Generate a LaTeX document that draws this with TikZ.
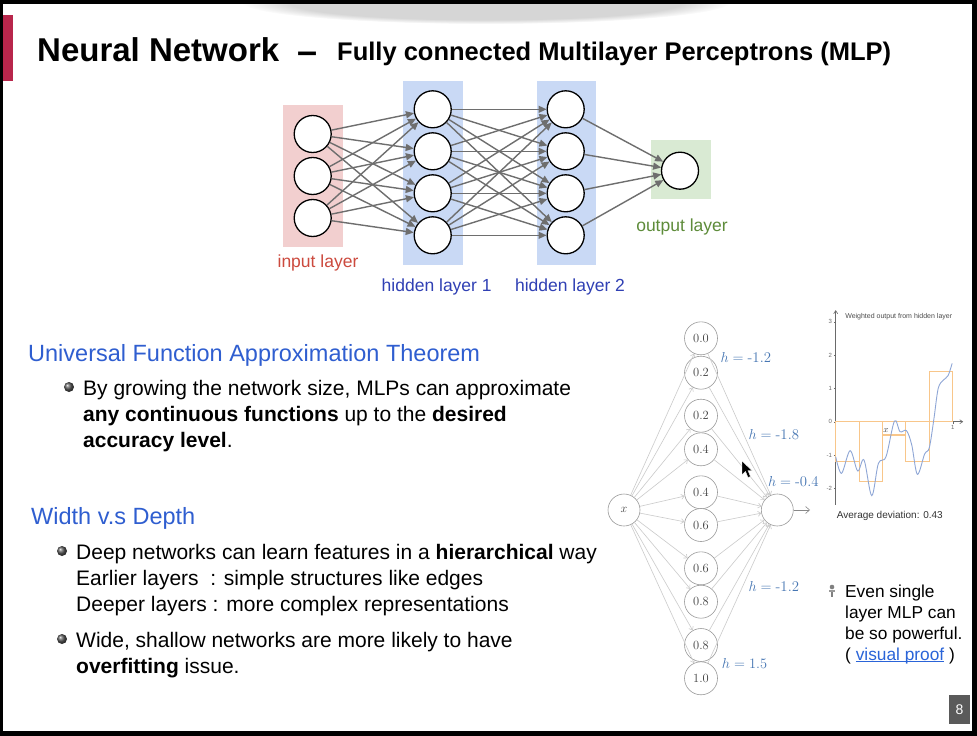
\documentclass[tikz,border=0pt]{standalone}
\usepackage{fontspec}
\newfontfamily\arial{Liberation Sans}
\usetikzlibrary{arrows.meta,fadings}

\definecolor{slidered}{HTML}{B8264B}
\definecolor{pinkbox}{HTML}{F2CFCF}
\definecolor{bluebox}{HTML}{C9D9F5}
\definecolor{greenbox}{HTML}{D9EAD3}
\definecolor{inred}{HTML}{CC4A3E}
\definecolor{hidblue}{HTML}{3040B4}
\definecolor{outgreen}{HTML}{5E8C3A}
\definecolor{headblue}{HTML}{2F5ED0}
\definecolor{hblue}{HTML}{4676B3}
\definecolor{linkblue}{HTML}{2A64D8}
\definecolor{edgegray}{HTML}{6E6E6E}
\definecolor{lightedge}{HTML}{CBCBCB}
\definecolor{nodegray}{HTML}{9A9A9A}
\definecolor{numgray}{HTML}{404040}
\definecolor{orangebar}{HTML}{F8C68A}
\definecolor{curveblue}{HTML}{8EA6D6}
\definecolor{axisgray}{HTML}{6A6A6A}
\definecolor{pagegray}{HTML}{5A5A5A}

% link text with a rule just under the baseline
\newcommand\linkline[1]{\setbox0\hbox{#1}\rlap{\rule[-1.8pt]{\wd0}{0.9pt}}\box0}

\begin{document}
\begin{tikzpicture}[x=1pt,y=-1pt,
  txt/.style={anchor=base west,inner sep=0,font=\arial\fontsize{21}{25}\selectfont},
  head/.style={anchor=base west,inner sep=0,text=headblue,font=\arial\fontsize{23.5}{28}\selectfont},
  dot/.style={circle,minimum size=10,inner sep=0,ball color=black!65},
  bignode/.style={circle,draw=black,line width=1.3,fill=white,minimum size=37,inner sep=0},
  bigedge/.style={draw=edgegray,line width=1.4,-{Triangle[length=8,width=7]}},
  laylabel/.style={inner sep=0,font=\arial\fontsize{17.5}{20}\selectfont},
  smallnode/.style={circle,draw=nodegray,line width=0.6,fill=white,minimum size=33,inner sep=0,
    text=numgray,font=\fontsize{12.5}{14}\selectfont},
  thinedge/.style={draw=lightedge,line width=0.6,-{Straight Barb[length=3,width=5]}},
  hlabel/.style={inner sep=0,text=hblue,font=\fontsize{14.8}{17}\selectfont},
  axis/.style={draw=axisgray,line width=0.6},
  ticklabel/.style={inner sep=0,text=axisgray,font=\arial\fontsize{6}{7}\selectfont},
  bar/.style={draw=orangebar,line width=1.1},
  side/.style={anchor=base west,inner sep=0,font=\arial\fontsize{17.3}{21}\selectfont}]

\useasboundingbox (0,0) rectangle (977,736);

% frame and slide
\fill[black] (0,0) rectangle (977,736);
\fill[white] (3,4) rectangle (972,731);
\fill[black,opacity=0.16,path fading=circle with fuzzy edge 20 percent]
  (486,2) ellipse [x radius=245,y radius=22];
\fill[black] (0,0) rectangle (977,4);
\fill[slidered] (3,15) rectangle (13,81);

% title
\node[anchor=base west,inner sep=0,font=\arial\bfseries\fontsize{33}{40}\selectfont] (title) at (37,61) {Neural Network};
\node[anchor=base,inner sep=0,font=\arial\bfseries\fontsize{36}{40}\selectfont] (dash) at (308,63) {–};
\node[anchor=base west,inner sep=0,font=\arial\bfseries\fontsize{25.5}{30}\selectfont] (subtitle) at (337,60)
  {Fully connected Multilayer Perceptrons (MLP)};

% layered network
\fill[pinkbox] (283.3,105) rectangle (342.7,246.7);
\fill[bluebox] (403.3,81) rectangle (463.3,265);
\fill[bluebox] (536.7,81) rectangle (595.7,265);
\fill[greenbox] (651,140) rectangle (710.7,199);

\foreach \y [count=\k] in {134,176,218}
  \node[bignode] (in\k) at (312.7,\y) {};
\foreach \y [count=\k] in {109.3,151.3,193.3,235.3} {
  \node[bignode] (ha\k) at (432.7,\y) {};
  \node[bignode] (hb\k) at (565.7,\y) {};
}
\node[bignode] (out) at (680,170.7) {};

\foreach \i in {1,2,3}
  \foreach \j in {1,...,4}
    \draw[bigedge] (in\i) -- (ha\j);
\foreach \i in {1,...,4} {
  \foreach \j in {1,...,4}
    \draw[bigedge] (ha\i) -- (hb\j);
  \draw[bigedge] (hb\i) -- (out);
}

\node[laylabel,text=inred] (lin) at (318,263) {input layer};
\node[laylabel,text=hidblue] (lha) at (436.7,286.7) {hidden layer 1};
\node[laylabel,text=hidblue] (lhb) at (570,286.7) {hidden layer 2};
\node[laylabel,text=outgreen] (lout) at (682,226.7) {output layer};

% text column
\node[head] (uh) at (28,361) {Universal Function Approximation Theorem};
\node[dot] (b1) at (69,387) {};
\node[txt] (t1) at (83,395.5) {By growing the network size, MLPs can approximate};
\node[txt] (t2) at (83,421.5) {\bfseries any continuous functions\mdseries\ up to the \bfseries desired};
\node[txt] (t3) at (83,447.5) {\bfseries accuracy level\mdseries .};

\node[head] (wh) at (31,524.5) {Width v.s Depth};
\node[dot] (b2) at (62,551) {};
\node[txt] (t4) at (76,559.5) {Deep networks can learn features in a \bfseries hierarchical\mdseries\ way};
\node[txt] (t5) at (76,585.5) {Earlier layers\ \ : simple structures like edges};
\node[txt] (t6) at (76,611.5) {Deeper layers : more complex representations};
\node[dot] (b3) at (62,639) {};
\node[txt] (t7) at (76,647.5) {Wide, shallow networks are more likely to have};
\node[txt] (t8) at (76,673.5) {\bfseries overfitting\mdseries\ issue.};

% single hidden layer network
\node[smallnode,minimum size=32] (xin) at (624,510) {$x$};
\foreach \v/\y [count=\k] in {0.0/338.3,0.2/372.7,0.2/415.7,0.4/449.3,0.4/492.3,
                               0.6/525,0.6/568.3,0.8/601.7,0.8/645,1.0/678.3}
  \node[smallnode] (s\k) at (701,\y) {\v};
\node[smallnode,minimum size=32] (sout) at (777.3,510) {};
\coordinate (yend) at (810,510);
\foreach \k in {1,...,10} {
  \draw[thinedge] (xin) -- (s\k);
  \draw[thinedge] (s\k) -- (sout);
}
\draw[draw=axisgray!80,line width=0.6,-{Straight Barb[length=4,width=7]}] (sout) -- (yend);

\node[hlabel] (h1) at (745.8,357.3) {$h=\mbox{-1.2}$};
\node[hlabel] (h2) at (773.8,434.3) {$h=\mbox{-1.8}$};
\node[hlabel] (h3) at (793.3,481.7) {$h=\mbox{-0.4}$};
\node[hlabel] (h4) at (773.8,586.7) {$h=\mbox{-1.2}$};
\node[hlabel] (h5) at (744.5,663.3) {$h=1.5$};

% weighted output plot
\begin{scope}[shift={(835.7,421.7)},x=117pt,y=33.3pt]
  \draw[axis,-{Straight Barb[length=3,width=4]}] (0,-2.5) -- (0,3.35);
  \draw[axis,-{Straight Barb[length=3,width=4]}] (0,0) -- (1.09,0);
  \foreach \t in {-2,-1,0,1,2,3} {
    \draw[axis,line width=0.4] (-0.015,\t) -- (0,\t);
    \node[ticklabel,anchor=east] at (-0.03,\t) {\t};
  }
  \draw[axis,line width=0.4] (1,0) -- (1,-0.07);
  \node[ticklabel,anchor=north] at (1,-0.1) {1};
  \draw[bar] (0,0) rectangle (0.2,-1.2);
  \draw[bar] (0.2,0) rectangle (0.4,-1.8);
  \draw[bar] (0.4,0) rectangle (0.6,-0.4);
  \draw[bar] (0.6,0) rectangle (0.8,-1.2);
  \draw[bar] (0.8,0) rectangle (1.0,1.5);
  \draw[curveblue,line width=0.9] plot[smooth,tension=0.55] coordinates {
    (0,-1.05) (0.05,-1.55) (0.123,-0.87) (0.188,-1.48) (0.242,-1.15)
    (0.308,-2.22) (0.365,-1.25) (0.43,-1.05) (0.502,0.02) (0.55,-0.3)
    (0.605,-0.27) (0.65,-0.7) (0.698,-1.58) (0.76,-0.97) (0.8,-0.78)
    (0.84,0.1) (0.876,1.0) (0.92,1.25) (0.96,1.38) (0.995,1.75)};
  \node[inner sep=0,text=black!75,font=\fontsize{9}{10}\selectfont] at (0.43,-0.28) {$x$};
  \node[ticklabel,anchor=west,text=black!70,font=\arial\fontsize{7}{8}\selectfont] at (0.08,3.15)
    {Weighted output from hidden layer};
\end{scope}
\node[anchor=west,inner sep=0,text=black!80,font=\arial\fontsize{10}{12}\selectfont] (avg) at (836.7,515.7)
  {Average deviation: 0.43};

% note beside the plot
\fill[gray] (832,587) circle (2.3);
\fill[gray!80] (829,590) rectangle (835,592);
\fill[gray] (831.4,592) rectangle (832.6,597);
\node[side] (n1) at (845,597) {Even single};
\node[side] (n2) at (845,618) {layer MLP can};
\node[side] (n3) at (845,639) {be so powerful.};
\node[side] (n4) at (845,660) {( \textcolor{linkblue}{\linkline{visual proof}} )};

% pointer
\fill[black,draw=white,line width=0.4] (742,461) -- (742,475) -- (745.5,471.5) -- (748,477.5)
  -- (750.5,476.5) -- (748,470.5) -- (752,470.5) -- cycle;

% page number
\fill[pagegray] (949,695) rectangle (970,724);
\node[text=white,inner sep=0,font=\arial\fontsize{14}{16}\selectfont] (pg) at (959.5,709.5) {8};

\end{tikzpicture}
\end{document}
